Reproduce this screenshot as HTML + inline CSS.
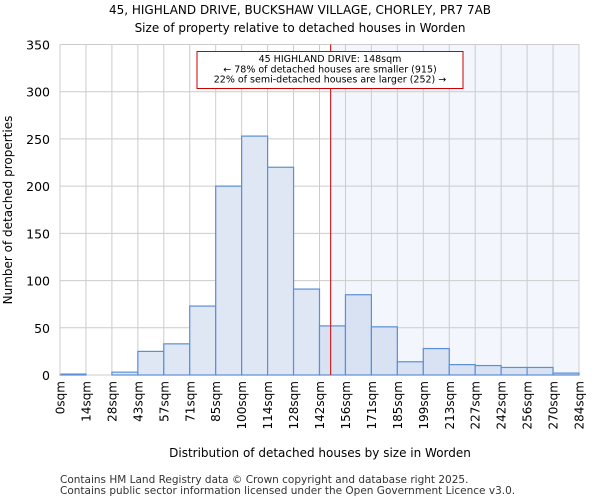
<!DOCTYPE html>
<html><head><meta charset="utf-8"><style>
body{margin:0;background:#fff;font-family:"DejaVu Sans","Liberation Sans",sans-serif}
</style></head><body>
<svg id="chart" width="600" height="500" xmlns="http://www.w3.org/2000/svg" font-family="DejaVu Sans, Liberation Sans, sans-serif">
<text x="300" y="14" text-anchor="middle" font-size="12">45, HIGHLAND DRIVE, BUCKSHAW VILLAGE, CHORLEY, PR7 7AB</text>
<text x="300" y="32" text-anchor="middle" font-size="12">Size of property relative to detached houses in Worden</text>
<g id="plot"></g>
<text x="320" y="457" text-anchor="middle" font-size="12">Distribution of detached houses by size in Worden</text>
<text transform="translate(12,210) rotate(-90)" text-anchor="middle" font-size="12">Number of detached properties</text>
<text x="60" y="483" font-size="10.5" fill="#333">Contains HM Land Registry data © Crown copyright and database right 2025.</text>
<text x="60" y="494" font-size="10.5" fill="#333">Contains public sector information licensed under the Open Government Licence v3.0.</text>
</svg>
<script>
const binLabels=["0sqm","14sqm","28sqm","43sqm","57sqm","71sqm","85sqm","100sqm","114sqm","128sqm","142sqm","156sqm","171sqm","185sqm","199sqm","213sqm","227sqm","242sqm","256sqm","270sqm","284sqm"];
const counts=[1,0,3,25,33,73,200,253,220,91,52,85,51,14,28,11,10,8,8,2];
const yTicks=[0,50,100,150,200,250,300,350];
const markerBin=10.43;
const L=60,R=579,T=44.5,B=375,yMax=350;
const ns="http://www.w3.org/2000/svg";
const g=document.getElementById('plot');
const n=counts.length;
const xs=i=>L+(R-L)*i/n;
const ys=v=>B-(B-T)*v/yMax;
function el(t,a,p){const e=document.createElementNS(ns,t);for(const k in a)e.setAttribute(k,a[k]);(p||g).appendChild(e);return e;}
const mx=xs(markerBin);
const sh=el('rect',{x:mx,y:T,width:R-mx,height:B-T,fill:'#f3f6fd'});


yTicks.forEach(v=>{
 const l=el('line',{x1:L,x2:R,y1:ys(v),y2:ys(v),stroke:'#cccccc'});
 
 
 const t=el('text',{x:L-10,y:ys(v)+5,'text-anchor':'end','font-size':'12.5'});
 t.textContent=v;
 
 
});
binLabels.forEach((s,i)=>{
 const l=el('line',{x1:xs(i),x2:xs(i),y1:T,y2:B,stroke:'#cccccc'});
 
 
 const t=el('text',{transform:`translate(${xs(i)+4.5},${B+6}) rotate(-90)`,'text-anchor':'end','font-size':'12'});
 t.textContent=s;
 
 
});
counts.forEach((v,i)=>{
 if(v<=0)return;
 const r=el('rect',{x:xs(i),y:ys(v),width:xs(i+1)-xs(i),height:B-ys(v),fill:i>=10?'#d8e2f3':'#dfe7f4',stroke:'#5b8fd6','stroke-width':'1.2'});
 
 
});
const ml=el('line',{x1:mx,x2:mx,y1:T,y2:B,stroke:'#cc0000','stroke-width':'1'});


const box=el('rect',{x:197,y:51.5,width:266,height:37,fill:'#fff',stroke:'#cc0000','stroke-width':'1'});


["45 HIGHLAND DRIVE: 148sqm","← 78% of detached houses are smaller (915)","22% of semi-detached houses are larger (252) →"].forEach((s,i)=>{
 const t=el('text',{x:330,y:62+i*10.3,'text-anchor':'middle','font-size':'9.5'});
 t.textContent=s;
 
 
});
el('line',{x1:L,x2:L,y1:T,y2:B,stroke:'#cccccc'});
</script>
</body></html>
